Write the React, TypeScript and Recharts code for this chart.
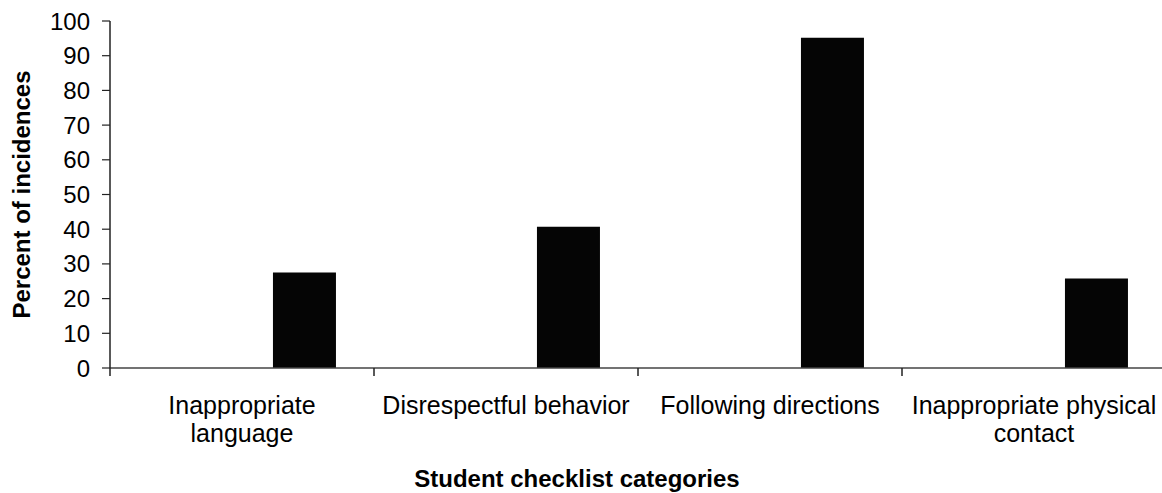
import { BarChart, Bar, XAxis, YAxis, Label } from 'recharts'

const categories = [
  'Inappropriate\nlanguage',
  'Disrespectful behavior',
  'Following directions',
  'Inappropriate physical\ncontact',
]
const seriesOne = [0, 0, 0, 0]
const seriesTwo = [0, 0, 0, 0]
const percentValues = [27.5, 40.7, 95.2, 25.8]
const yTicks = [0, 10, 20, 30, 40, 50, 60, 70, 80, 90, 100]

const data = categories.map((name, i) => ({
  name,
  s1: seriesOne[i],
  s2: seriesTwo[i],
  pct: percentValues[i],
}))

const FONT = '"Liberation Sans", Arial, sans-serif'

function CategoryTick(props: any) {
  const { x, y, payload } = props
  const half = payload && payload.offset ? payload.offset : 132
  const lines = String(payload.value).split('\n')
  return (
    <g>
      <line x1={x - half} y1={y} x2={x - half} y2={y + 8} stroke="#222" strokeWidth={1.5} />
      {lines.map((line, i) => (
        <text
          key={i}
          x={x}
          y={y + 46 + i * 28}
          textAnchor="middle"
          fontFamily={FONT}
          fontSize={25}
          fill="#000"
        >
          {line}
        </text>
      ))}
    </g>
  )
}

export default function App() {
  return (
    <div
      style={{
        position: 'fixed',
        left: 0,
        top: 0,
        width: 1162,
        height: 493,
        overflow: 'hidden',
        background: '#fff',
      }}
    >
      <BarChart
        width={1166}
        height={493}
        data={data}
        margin={{ top: 21, right: 0, left: 0, bottom: 0 }}
        barCategoryGap="14%"
        barGap={0}
      >
        <XAxis
          dataKey="name"
          height={125}
          interval={0}
          tickSize={0}
          tickMargin={0}
          tickLine={false}
          axisLine={{ stroke: '#444', strokeWidth: 1.5 }}
          tick={<CategoryTick />}
        >
          <Label
            content={() => (
              <text
                x={577}
                y={487}
                textAnchor="middle"
                fontFamily={FONT}
                fontSize={24}
                fontWeight="bold"
                fill="#000"
              >
                Student checklist categories
              </text>
            )}
          />
        </XAxis>
        <YAxis
          width={110}
          domain={[0, 100]}
          ticks={yTicks}
          interval={0}
          tickSize={8}
          tickMargin={12}
          axisLine={{ stroke: '#222', strokeWidth: 1.5 }}
          tickLine={{ stroke: '#222', strokeWidth: 1.2 }}
          tick={{ fontFamily: FONT, fontSize: 24, fill: '#000' }}
        >
          <Label
            content={(p: any) => {
              const vb = p.viewBox || { y: 21, height: 347 }
              const cy = vb.y + vb.height / 2
              return (
                <text
                  x={30}
                  y={cy}
                  transform={`rotate(-90 30 ${cy})`}
                  textAnchor="middle"
                  fontFamily={FONT}
                  fontSize={24}
                  fontWeight="bold"
                  fill="#000"
                >
                  Percent of incidences
                </text>
              )
            }}
          />
        </YAxis>
        <Bar dataKey="s1" fill="#000" isAnimationActive={false} />
        <Bar dataKey="s2" fill="#000" isAnimationActive={false} />
        <Bar dataKey="pct" fill="#050505" isAnimationActive={false} />
      </BarChart>
    </div>
  )
}
